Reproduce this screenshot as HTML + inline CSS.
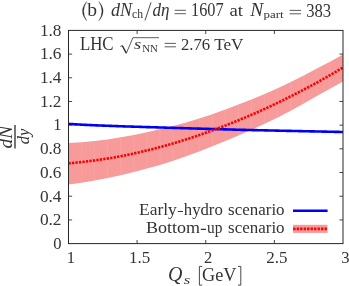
<!DOCTYPE html>
<html><head><meta charset="utf-8"><style>
html,body{margin:0;padding:0;background:#fff;}
body{width:349px;height:286px;overflow:hidden;}
svg{display:block;will-change:transform;font-family:"Liberation Serif",serif;fill:#343434;}
.i{font-style:italic;}
</style></head><body>
<svg width="349" height="286" viewBox="0 0 349 286">
<rect width="349" height="286" fill="#fff"/>
<path d="M68.50,219.91h3.6 M343.00,219.91h-3.6M68.50,196.22h3.6 M343.00,196.22h-3.6M68.50,172.53h3.6 M343.00,172.53h-3.6M68.50,148.84h3.6 M343.00,148.84h-3.6M68.50,125.16h3.6 M343.00,125.16h-3.6M68.50,101.47h3.6 M343.00,101.47h-3.6M68.50,77.78h3.6 M343.00,77.78h-3.6M68.50,54.09h3.6 M343.00,54.09h-3.6M137.12,243.60v-3.6 M137.12,30.40v3.6M205.75,243.60v-3.6 M205.75,30.40v3.6M274.38,243.60v-3.6 M274.38,30.40v3.6" stroke="#333" stroke-width="0.9" fill="none"/>
<g fill="#f79a9a" stroke="none"><polygon points="68.50,142.92 81.57,142.26 94.64,141.07 107.71,139.42 120.79,137.32 133.86,135.03 146.93,132.35 160.00,129.29 173.07,126.03 186.14,122.42 199.21,118.47 212.29,114.17 225.36,109.53 238.43,104.56 251.50,99.41 264.57,93.96 277.64,88.19 290.71,81.98 303.79,75.44 316.86,68.58 329.93,61.67 343.00,54.50 343.00,81.57 329.93,88.81 316.86,95.95 303.79,103.47 290.71,110.68 277.64,117.53 264.57,123.81 251.50,129.79 238.43,135.50 225.36,141.03 212.29,146.36 199.21,151.45 186.14,156.22 173.07,160.71 160.00,164.94 146.93,168.61 133.86,172.04 120.79,175.24 107.71,177.92 94.64,180.40 81.57,182.64 68.50,184.58"/><path d="M81.57,142.76V182.14M94.64,141.57V179.90M107.71,139.92V177.42M120.79,137.82V174.74M133.86,135.53V171.54M146.93,132.85V168.11M160.00,129.79V164.44M173.07,126.53V160.21M186.14,122.92V155.72M199.21,118.97V150.95M212.29,114.67V145.86M225.36,110.03V140.53M238.43,105.06V135.00M251.50,99.91V129.29M264.57,94.46V123.31M277.64,88.69V117.03M290.71,82.48V110.18M303.79,75.94V102.97M316.86,69.08V95.45M329.93,62.17V88.31" stroke="#fff" stroke-opacity="0.09" stroke-width="1" fill="none"/></g>
<path d="M68.50,123.73 L69.87,123.93 L71.25,124.05 L72.62,124.15 L73.99,124.25 L75.36,124.34 L76.74,124.42 L78.11,124.50 L79.48,124.57 L80.85,124.64 L82.23,124.71 L83.60,124.78 L84.97,124.85 L86.34,124.91 L87.72,124.98 L89.09,125.04 L90.46,125.10 L91.83,125.16 L93.20,125.22 L94.58,125.27 L95.95,125.33 L97.32,125.39 L98.69,125.44 L100.07,125.50 L101.44,125.55 L102.81,125.60 L104.19,125.65 L105.56,125.71 L106.93,125.76 L108.30,125.81 L109.68,125.86 L111.05,125.91 L112.42,125.96 L113.79,126.01 L115.17,126.06 L116.54,126.10 L117.91,126.15 L119.28,126.20 L120.65,126.24 L122.03,126.29 L123.40,126.34 L124.77,126.38 L126.14,126.43 L127.52,126.47 L128.89,126.52 L130.26,126.56 L131.63,126.61 L133.01,126.65 L134.38,126.70 L135.75,126.74 L137.12,126.78 L138.50,126.82 L139.87,126.87 L141.24,126.91 L142.62,126.95 L143.99,126.99 L145.36,127.04 L146.73,127.08 L148.11,127.12 L149.48,127.16 L150.85,127.20 L152.22,127.24 L153.60,127.28 L154.97,127.32 L156.34,127.36 L157.71,127.40 L159.09,127.44 L160.46,127.48 L161.83,127.52 L163.20,127.56 L164.57,127.60 L165.95,127.64 L167.32,127.68 L168.69,127.72 L170.06,127.76 L171.44,127.80 L172.81,127.84 L174.18,127.88 L175.56,127.93 L176.93,127.97 L178.30,128.01 L179.67,128.05 L181.04,128.09 L182.42,128.14 L183.79,128.18 L185.16,128.22 L186.53,128.26 L187.91,128.30 L189.28,128.34 L190.65,128.38 L192.02,128.43 L193.40,128.47 L194.77,128.51 L196.14,128.55 L197.51,128.59 L198.89,128.63 L200.26,128.67 L201.63,128.71 L203.00,128.75 L204.38,128.79 L205.75,128.83 L207.12,128.87 L208.50,128.91 L209.87,128.95 L211.24,128.99 L212.61,129.03 L213.99,129.07 L215.36,129.10 L216.73,129.14 L218.10,129.18 L219.48,129.22 L220.85,129.26 L222.22,129.30 L223.59,129.34 L224.96,129.38 L226.34,129.41 L227.71,129.45 L229.08,129.49 L230.45,129.53 L231.83,129.57 L233.20,129.61 L234.57,129.64 L235.94,129.68 L237.32,129.72 L238.69,129.76 L240.06,129.79 L241.43,129.83 L242.81,129.86 L244.18,129.89 L245.55,129.92 L246.92,129.95 L248.30,129.98 L249.67,130.01 L251.04,130.05 L252.41,130.08 L253.79,130.11 L255.16,130.14 L256.53,130.17 L257.90,130.20 L259.28,130.23 L260.65,130.26 L262.02,130.29 L263.39,130.32 L264.77,130.35 L266.14,130.38 L267.51,130.41 L268.88,130.44 L270.26,130.47 L271.63,130.50 L273.00,130.53 L274.38,130.56 L275.75,130.59 L277.12,130.62 L278.49,130.65 L279.87,130.68 L281.24,130.71 L282.61,130.74 L283.98,130.77 L285.36,130.80 L286.73,130.83 L288.10,130.86 L289.47,130.89 L290.85,130.92 L292.22,130.95 L293.59,130.98 L294.96,131.01 L296.34,131.04 L297.71,131.07 L299.08,131.10 L300.45,131.12 L301.83,131.15 L303.20,131.18 L304.57,131.21 L305.94,131.24 L307.32,131.27 L308.69,131.30 L310.06,131.33 L311.43,131.35 L312.81,131.38 L314.18,131.41 L315.55,131.44 L316.92,131.47 L318.30,131.50 L319.67,131.52 L321.04,131.55 L322.41,131.58 L323.79,131.61 L325.16,131.64 L326.53,131.67 L327.90,131.69 L329.27,131.72 L330.65,131.75 L332.02,131.78 L333.39,131.81 L334.76,131.83 L336.14,131.86 L337.51,131.89 L338.88,131.92 L340.25,131.94 L341.63,131.97 L343.00,132.00" fill="none" stroke="#0000f6" stroke-width="2.6"/>
<path d="M68.50,163.35 L69.87,163.23 L71.25,163.10 L72.62,162.97 L73.99,162.84 L75.36,162.70 L76.74,162.56 L78.11,162.42 L79.48,162.27 L80.85,162.12 L82.23,161.97 L83.60,161.81 L84.97,161.65 L86.34,161.48 L87.72,161.32 L89.09,161.14 L90.46,160.97 L91.83,160.79 L93.20,160.61 L94.58,160.43 L95.95,160.24 L97.32,160.05 L98.69,159.85 L100.07,159.65 L101.44,159.45 L102.81,159.25 L104.19,159.04 L105.56,158.83 L106.93,158.61 L108.30,158.39 L109.68,158.17 L111.05,157.94 L112.42,157.72 L113.79,157.48 L115.17,157.25 L116.54,157.01 L117.91,156.76 L119.28,156.52 L120.65,156.26 L122.03,155.99 L123.40,155.71 L124.77,155.43 L126.14,155.15 L127.52,154.87 L128.89,154.58 L130.26,154.29 L131.63,153.99 L133.01,153.69 L134.38,153.39 L135.75,153.08 L137.12,152.77 L138.50,152.46 L139.87,152.15 L141.24,151.83 L142.62,151.50 L143.99,151.18 L145.36,150.85 L146.73,150.51 L148.11,150.18 L149.48,149.84 L150.85,149.49 L152.22,149.15 L153.60,148.80 L154.97,148.44 L156.34,148.08 L157.71,147.72 L159.09,147.36 L160.46,146.99 L161.83,146.62 L163.20,146.24 L164.57,145.86 L165.95,145.47 L167.32,145.09 L168.69,144.69 L170.06,144.30 L171.44,143.90 L172.81,143.50 L174.18,143.09 L175.56,142.69 L176.93,142.27 L178.30,141.86 L179.67,141.44 L181.04,141.02 L182.42,140.59 L183.79,140.16 L185.16,139.73 L186.53,139.29 L187.91,138.85 L189.28,138.41 L190.65,137.97 L192.02,137.52 L193.40,137.06 L194.77,136.61 L196.14,136.15 L197.51,135.68 L198.89,135.22 L200.26,134.75 L201.63,134.27 L203.00,133.80 L204.38,133.32 L205.75,132.83 L207.12,132.34 L208.50,131.85 L209.87,131.36 L211.24,130.86 L212.61,130.36 L213.99,129.86 L215.36,129.35 L216.73,128.84 L218.10,128.32 L219.48,127.81 L220.85,127.28 L222.22,126.76 L223.59,126.23 L224.96,125.70 L226.34,125.16 L227.71,124.63 L229.08,124.08 L230.45,123.54 L231.83,122.99 L233.20,122.44 L234.57,121.88 L235.94,121.32 L237.32,120.76 L238.69,120.19 L240.06,119.63 L241.43,119.06 L242.81,118.48 L244.18,117.91 L245.55,117.33 L246.92,116.75 L248.30,116.16 L249.67,115.57 L251.04,114.98 L252.41,114.38 L253.79,113.78 L255.16,113.18 L256.53,112.57 L257.90,111.96 L259.28,111.34 L260.65,110.73 L262.02,110.11 L263.39,109.48 L264.77,108.86 L266.14,108.22 L267.51,107.59 L268.88,106.95 L270.26,106.31 L271.63,105.67 L273.00,105.02 L274.38,104.37 L275.75,103.71 L277.12,103.05 L278.49,102.39 L279.87,101.73 L281.24,101.06 L282.61,100.39 L283.98,99.72 L285.36,99.04 L286.73,98.36 L288.10,97.68 L289.47,96.99 L290.85,96.30 L292.22,95.61 L293.59,94.91 L294.96,94.21 L296.34,93.51 L297.71,92.80 L299.08,92.09 L300.45,91.37 L301.83,90.66 L303.20,89.93 L304.57,89.21 L305.94,88.48 L307.32,87.75 L308.69,87.02 L310.06,86.28 L311.43,85.54 L312.81,84.79 L314.18,84.04 L315.55,83.29 L316.92,82.54 L318.30,81.78 L319.67,81.02 L321.04,80.25 L322.41,79.48 L323.79,78.71 L325.16,77.93 L326.53,77.15 L327.90,76.37 L329.27,75.58 L330.65,74.80 L332.02,74.00 L333.39,73.21 L334.76,72.41 L336.14,71.60 L337.51,70.80 L338.88,69.99 L340.25,69.17 L341.63,68.36 L343.00,67.54" fill="none" stroke="#fa0000" stroke-width="2.6" stroke-dasharray="2.3 1.2"/>
<!-- legend samples -->
<path d="M293,210.8H327.6" stroke="#0000f6" stroke-width="2.5" fill="none"/>
<rect x="293" y="224.8" width="34.5" height="8.1" fill="#f79a9a"/>
<path d="M293.2,228.9H327.6" stroke="#fa0000" stroke-width="2.9" stroke-dasharray="2.3 1.18" fill="none"/>
<!-- frame -->
<rect x="68.5" y="30.4" width="274.5" height="213.2" fill="none" stroke="#262626" stroke-width="1"/>
<g><text x="53.20" y="248.90" font-size="17" textLength="8.30" lengthAdjust="spacingAndGlyphs">0</text><text x="39.90" y="225.21" font-size="17" textLength="21.60" lengthAdjust="spacingAndGlyphs">0.2</text><text x="39.90" y="201.52" font-size="17" textLength="21.60" lengthAdjust="spacingAndGlyphs">0.4</text><text x="39.90" y="177.83" font-size="17" textLength="21.60" lengthAdjust="spacingAndGlyphs">0.6</text><text x="39.90" y="154.14" font-size="17" textLength="21.60" lengthAdjust="spacingAndGlyphs">0.8</text><text x="53.20" y="130.46" font-size="17" textLength="8.30" lengthAdjust="spacingAndGlyphs">1</text><text x="39.90" y="106.77" font-size="17" textLength="21.60" lengthAdjust="spacingAndGlyphs">1.2</text><text x="39.90" y="83.08" font-size="17" textLength="21.60" lengthAdjust="spacingAndGlyphs">1.4</text><text x="39.90" y="59.39" font-size="17" textLength="21.60" lengthAdjust="spacingAndGlyphs">1.6</text><text x="39.90" y="35.70" font-size="17" textLength="21.60" lengthAdjust="spacingAndGlyphs">1.8</text><text x="66.85" y="262.50" font-size="17" textLength="8.30" lengthAdjust="spacingAndGlyphs">1</text><text x="129.03" y="262.50" font-size="17" textLength="21.20" lengthAdjust="spacingAndGlyphs">1.5</text><text x="204.10" y="262.50" font-size="17" textLength="8.30" lengthAdjust="spacingAndGlyphs">2</text><text x="266.27" y="262.50" font-size="17" textLength="21.20" lengthAdjust="spacingAndGlyphs">2.5</text><text x="341.35" y="262.50" font-size="17" textLength="8.30" lengthAdjust="spacingAndGlyphs">3</text></g>
<!-- title -->
<g><path d="M86.9,1.3Q77.9,11.2 86.9,21.1Q80.5,11.2 86.9,1.3ZM98.7,1.3Q107.7,11.2 98.7,21.1Q105.1,11.2 98.7,1.3Z" fill="#343434" stroke="#343434" stroke-width="0.2"/><text x="87.20" y="16.10" font-size="18.4" textLength="9.80" lengthAdjust="spacingAndGlyphs">b</text><text x="110.90" y="16.15" font-size="18.2" textLength="21.10" lengthAdjust="spacingAndGlyphs" class="i">dN</text><text x="132.00" y="18.30" font-size="11.6" textLength="11.00" lengthAdjust="spacingAndGlyphs">ch</text><path d="M145,20.4L151,2.4" stroke="#343434" stroke-width="0.9" fill="none"/><text x="152.50" y="16.20" font-size="18.2" textLength="17.00" lengthAdjust="spacingAndGlyphs" class="i">dη</text><path d="M174.60,10.30H185.90M174.60,13.70H185.90" stroke="#343434" stroke-width="0.8" fill="none"/><text x="191.00" y="16.40" font-size="18" textLength="32.60" lengthAdjust="spacingAndGlyphs">1607</text><text x="229.40" y="16.30" font-size="16.5" textLength="13.50" lengthAdjust="spacingAndGlyphs">at</text><text x="250.20" y="16.30" font-size="18.2" textLength="13.00" lengthAdjust="spacingAndGlyphs" class="i">N</text><text x="263.40" y="18.30" font-size="11.2" textLength="20.20" lengthAdjust="spacingAndGlyphs">part</text><path d="M289.60,10.40H301.10M289.60,13.80H301.10" stroke="#343434" stroke-width="0.8" fill="none"/><text x="306.20" y="16.50" font-size="18" textLength="25.00" lengthAdjust="spacingAndGlyphs">383</text></g>
<!-- inner label -->
<g><text x="79.90" y="49.70" font-size="18.2" textLength="33.70" lengthAdjust="spacingAndGlyphs">LHC</text><text x="134.00" y="49.20" font-size="15.5" textLength="7.20" lengthAdjust="spacingAndGlyphs" class="i">s</text><text x="142.20" y="51.80" font-size="11.3" textLength="15.70" lengthAdjust="spacingAndGlyphs">NN</text><path d="M164.70,43.40H175.90M164.70,46.80H175.90" stroke="#343434" stroke-width="0.8" fill="none"/><text x="181.00" y="49.80" font-size="17.5" textLength="29.20" lengthAdjust="spacingAndGlyphs">2.76</text><text x="214.20" y="49.70" font-size="17.6" textLength="29.30" lengthAdjust="spacingAndGlyphs">TeV</text><path d="M120.3,46.6L122.2,45.5" fill="none" stroke="#343434" stroke-width="0.8"/><path d="M122.2,45.5L126.3,53.2" fill="none" stroke="#343434" stroke-width="1.5"/><path d="M126.3,53.4L132.9,37.7H159" fill="none" stroke="#343434" stroke-width="0.8"/></g>
<!-- legend text -->
<g><text x="139.00" y="214.80" font-size="17" textLength="37.80" lengthAdjust="spacingAndGlyphs">Early</text><path d="M177.8,211.5H183.0M200.8,229.4H206.0" stroke="#343434" stroke-width="1.2" fill="none"/><text x="183.80" y="214.80" font-size="17" textLength="39.00" lengthAdjust="spacingAndGlyphs">hydro</text><text x="228.10" y="214.80" font-size="17" textLength="56.50" lengthAdjust="spacingAndGlyphs">scenario</text><text x="145.90" y="232.70" font-size="17" textLength="54.10" lengthAdjust="spacingAndGlyphs">Bottom</text><text x="207.00" y="232.70" font-size="17" textLength="15.40" lengthAdjust="spacingAndGlyphs">up</text><text x="228.10" y="232.70" font-size="17" textLength="56.50" lengthAdjust="spacingAndGlyphs">scenario</text></g>
<!-- xlabel -->
<g>
<text x="168.00" y="280.60" font-size="20" textLength="14.40" lengthAdjust="spacingAndGlyphs" class="i">Q</text><text x="183.80" y="284.00" font-size="13" textLength="6.50" lengthAdjust="spacingAndGlyphs" class="i">s</text><path d="M202.2,266.4H199.4V285.1H202.2M238.0,266.4H240.8V285.1H238.0" stroke="#343434" stroke-width="0.9" fill="none"/><text x="202.00" y="280.70" font-size="19.6" textLength="34.40" lengthAdjust="spacingAndGlyphs">GeV</text>
</g>
<!-- ylabel -->
<g transform="translate(0,136.8) rotate(-90)" font-size="17" class="i" text-anchor="middle">
<text x="-0.4" y="11.9" font-size="18.6" textLength="22.6" lengthAdjust="spacingAndGlyphs">dN</text>
<path d="M-11.8,15.0H11.8" stroke="#1a1a1a" stroke-width="1.2"/>
<text x="0.3" y="28.9" font-size="17.2" textLength="15.6" lengthAdjust="spacingAndGlyphs">dy</text>
</g>
</svg>
</body></html>
